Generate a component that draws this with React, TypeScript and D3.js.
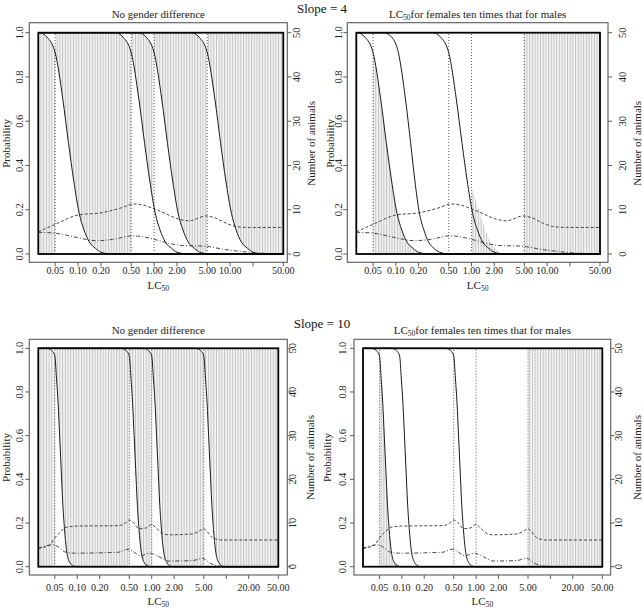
import React from 'react';
import * as d3 from 'd3';

type Pt = [number, number];

const W = 643;
const H = 612;
const FONT = "'Liberation Serif', 'Times New Roman', serif";

// ---------- data ----------
const cutoffs = [0.05, 0.5, 1, 5];
const xTickValues = [0.05, 0.1, 0.2, 0.5, 1, 2, 5, 10, 20, 50];
const xTickLabelsSlope4 = ['0.05', '0.10', '0.20', '0.50', '1.00', '2.00', '5.00', '10.00', '', '50.00'];
const xTickLabelsSlope10 = ['0.05', '0.10', '0.20', '0.50', '1.00', '2.00', '5.00', '', '20.00', '50.00'];
const probTicks = [0, 0.2, 0.4, 0.6, 0.8, 1.0];
const probTickLabels = ['0.0', '0.2', '0.4', '0.6', '0.8', '1.0'];
const animalTicks = [0, 10, 20, 30, 40, 50];
const animalTickLabels = ['0', '10', '20', '30', '40', '50'];

// slope 4 – probability curves
const s4Cut005: Pt[] = [[0.03, 1], [0.031, 1], [0.039, 0.98], [0.05, 0.91], [0.063, 0.7], [0.075, 0.5], [0.0875, 0.334], [0.1035, 0.184], [0.12, 0.108], [0.14, 0.055], [0.17, 0.025], [0.2, 0.008], [0.275, 0], [50, 0]];
const s4Cut05: Pt[] = [[0.03, 1], [0.31, 1], [0.39, 0.98], [0.5, 0.91], [0.63, 0.7], [0.75, 0.5], [0.875, 0.334], [1.035, 0.184], [1.2, 0.108], [1.4, 0.055], [1.7, 0.025], [2.0, 0.008], [2.75, 0], [50, 0]];
const s4Cut1: Pt[] = [[0.03, 1], [0.62, 1], [0.785, 0.98], [1.0, 0.91], [1.26, 0.7], [1.5, 0.5], [1.75, 0.334], [2.07, 0.184], [2.4, 0.108], [2.8, 0.055], [3.4, 0.025], [4.0, 0.008], [5.5, 0], [50, 0]];
const s4Cut5: Pt[] = [[0.03, 1], [3.1, 1], [3.9, 0.98], [5, 0.91], [6.3, 0.7], [7.5, 0.5], [8.75, 0.334], [10.4, 0.184], [12, 0.108], [14, 0.055], [17, 0.025], [20, 0.008], [27.5, 0], [50, 0]];
const s4Female: Pt[] = [[0.03, 1], [0.07, 1], [0.088, 0.98], [0.108, 0.91], [0.134, 0.7], [0.157, 0.5], [0.178, 0.334], [0.205, 0.184], [0.235, 0.108], [0.27, 0.055], [0.32, 0.025], [0.38, 0.008], [0.5, 0], [50, 0]];
// shading limit right of 1.00 (female panel, slope 4)
const s4FemaleShade1: Pt[] = [[1.0, 0.3], [1.2, 0.22], [1.45, 0.13], [1.7, 0.07], [2.0, 0.03], [2.3, 0.01], [2.6, 0], [50, 0]];

// slope 10 – probability curves
const s10Cut005: Pt[] = [[0.03, 1], [0.038, 1], [0.0435, 0.995], [0.0467, 0.985], [0.05, 0.965], [0.0527, 0.86], [0.0553, 0.75], [0.058, 0.6], [0.0608, 0.45], [0.0637, 0.3], [0.0675, 0.17], [0.0715, 0.08], [0.079, 0.02], [0.089, 0.003], [0.0975, 0], [50, 0]];
const s10Cut05: Pt[] = [[0.03, 1], [0.38, 1], [0.435, 0.995], [0.467, 0.985], [0.5, 0.965], [0.527, 0.86], [0.553, 0.75], [0.58, 0.6], [0.608, 0.45], [0.637, 0.3], [0.675, 0.17], [0.715, 0.08], [0.79, 0.02], [0.89, 0.003], [0.975, 0], [50, 0]];
const s10Cut1: Pt[] = [[0.03, 1], [0.76, 1], [0.87, 0.995], [0.933, 0.985], [1.0, 0.965], [1.054, 0.86], [1.107, 0.75], [1.16, 0.6], [1.216, 0.45], [1.274, 0.3], [1.35, 0.17], [1.43, 0.08], [1.585, 0.02], [1.78, 0.003], [1.95, 0], [50, 0]];
const s10Cut5: Pt[] = [[0.03, 1], [3.8, 1], [4.35, 0.995], [4.67, 0.985], [5.0, 0.965], [5.27, 0.86], [5.53, 0.75], [5.8, 0.6], [6.08, 0.45], [6.37, 0.3], [6.75, 0.17], [7.15, 0.08], [7.9, 0.02], [8.9, 0.003], [9.75, 0], [50, 0]];
const s10Female: Pt[] = [[0.03, 1], [0.0709, 1], [0.0813, 0.995], [0.0871, 0.985], [0.0934, 0.965], [0.0984, 0.86], [0.1034, 0.75], [0.1084, 0.6], [0.1136, 0.45], [0.119, 0.3], [0.126, 0.17], [0.1335, 0.08], [0.148, 0.02], [0.166, 0.003], [0.182, 0], [50, 0]];

// number of animals (right axis)
const animalsUpperS4: Pt[] = [[0.03, 5.0], [0.05, 6.7], [0.1, 8.8], [0.2, 9.3], [0.35, 10.3], [0.55, 11.3], [0.7, 11.1], [1.0, 10.2], [1.3, 9.4], [2.1, 7.9], [2.9, 7.5], [4.8, 8.6], [6, 8.3], [9, 6.9], [12, 6.2], [18, 6.0], [50, 6.0]];
const animalsLowerS4: Pt[] = [[0.03, 4.9], [0.05, 4.7], [0.077, 4.1], [0.127, 3.3], [0.172, 3.0], [0.285, 3.3], [0.52, 4.1], [0.71, 3.9], [1.06, 3.2], [1.58, 2.4], [2.38, 1.9], [4.36, 1.8], [5.35, 1.65], [7.9, 1.1], [12, 0.7], [20, 0.3], [33, 0.12], [50, 0.1]];
const animalsUpperS10: Pt[] = [[0.03, 4.2], [0.043, 5.0], [0.05, 6.6], [0.06, 8.0], [0.07, 9.0], [0.1, 9.3], [0.36, 9.4], [0.45, 10.1], [0.5, 10.7], [0.56, 10.2], [0.68, 8.7], [0.85, 8.9], [1.0, 9.7], [1.12, 9.0], [1.4, 7.6], [1.7, 7.3], [3.5, 7.5], [4.5, 8.3], [5.0, 8.7], [5.5, 8.1], [6.7, 6.5], [9, 6.1], [50, 6.1]];
const animalsLowerS10: Pt[] = [[0.03, 4.2], [0.047, 5.0], [0.055, 4.6], [0.068, 3.4], [0.09, 3.1], [0.35, 3.3], [0.48, 4.0], [0.55, 3.6], [0.7, 2.5], [0.95, 3.1], [1.05, 2.9], [1.25, 2.3], [1.7, 1.3], [3.5, 1.4], [4.8, 1.9], [6.1, 0.8], [7.9, 0.16], [10.5, 0], [50, 0]];

// ---------- panel configuration ----------
type Band = { from: number; to: number; lower: Pt[] | null; upper: Pt[] | 'one' };
type Panel = {
  id: string;
  title: 'none' | 'female';
  box: { l: number; t: number; r: number; b: number };
  xr: [number, number];
  yr: [number, number];
  curves: Pt[][];
  bands: Band[];
  upper: Pt[];
  lower: Pt[];
  xLabels: string[];
  ylabX: number; ytickX: number; rtickX: number; rlabX: number;
  xtickY: number; xlabY: number; titleY: number;
};

const panels: Panel[] = [
  {
    id: 'tl', title: 'none', box: { l: 29.3, t: 22.7, r: 287.3, b: 262.3 }, xr: [38.3, 283.3], yr: [254, 32.7],
    curves: [s4Cut005, s4Cut05, s4Cut1, s4Cut5],
    bands: [
      { from: 0.03, to: 0.05, lower: null, upper: s4Cut005 },
      { from: 0.05, to: 0.5, lower: s4Cut005, upper: s4Cut05 },
      { from: 0.5, to: 1, lower: s4Cut05, upper: s4Cut1 },
      { from: 1, to: 5, lower: s4Cut1, upper: s4Cut5 },
      { from: 5, to: 50, lower: s4Cut5, upper: 'one' },
    ],
    upper: animalsUpperS4, lower: animalsLowerS4, xLabels: xTickLabelsSlope4,
    ylabX: 6, ytickX: 19.3, rtickX: 296.5, rlabX: 311, xtickY: 270, xlabY: 285, titleY: 14,
  },
  {
    id: 'tr', title: 'female', box: { l: 347.3, t: 22.7, r: 608, b: 262.3 }, xr: [356.3, 600], yr: [254, 32.7],
    curves: [s4Cut005, s4Female, s4Cut05],
    bands: [
      { from: 0.05, to: 0.5, lower: null, upper: s4Cut005 },
      { from: 1, to: 5, lower: null, upper: s4FemaleShade1 },
      { from: 5, to: 50, lower: null, upper: 'one' },
    ],
    upper: animalsUpperS4, lower: animalsLowerS4, xLabels: xTickLabelsSlope4,
    ylabX: 330, ytickX: 338, rtickX: 622, rlabX: 637, xtickY: 270, xlabY: 285, titleY: 14,
  },
  {
    id: 'bl', title: 'none', box: { l: 29.3, t: 339.3, r: 287.3, b: 575 }, xr: [38.3, 278.3], yr: [566.7, 348.3],
    curves: [s10Cut005, s10Cut05, s10Cut1, s10Cut5],
    bands: [
      { from: 0.03, to: 0.05, lower: null, upper: s10Cut005 },
      { from: 0.05, to: 0.5, lower: s10Cut005, upper: s10Cut05 },
      { from: 0.5, to: 1, lower: s10Cut05, upper: s10Cut1 },
      { from: 1, to: 5, lower: s10Cut1, upper: s10Cut5 },
      { from: 5, to: 50, lower: s10Cut5, upper: 'one' },
    ],
    upper: animalsUpperS10, lower: animalsLowerS10, xLabels: xTickLabelsSlope10,
    ylabX: 6, ytickX: 19.3, rtickX: 292, rlabX: 310, xtickY: 587, xlabY: 601, titleY: 330,
  },
  {
    id: 'br', title: 'female', box: { l: 354, t: 339.3, r: 610.7, b: 575 }, xr: [363, 602.3], yr: [566.7, 348.3],
    curves: [s10Cut005, s10Female, s10Cut05],
    bands: [
      { from: 0.05, to: 0.5, lower: null, upper: s10Cut005 },
      { from: 5, to: 50, lower: null, upper: 'one' },
    ],
    upper: animalsUpperS10, lower: animalsLowerS10, xLabels: xTickLabelsSlope10,
    ylabX: 327, ytickX: 342, rtickX: 618, rlabX: 637, xtickY: 587, xlabY: 601, titleY: 330,
  },
];

const INK = '#1a1a1a';
const AXIS = '#5a5a5a';
const TXT = '#222';

function PanelView({ p }: { p: Panel }) {
  const x = d3.scaleLog().domain([0.03, 50]).range(p.xr);
  const y = d3.scaleLinear().domain([0, 1]).range(p.yr);
  const yN = d3.scaleLinear().domain([0, 50]).range(p.yr);
  const line = d3.line<Pt>().x(d => x(d[0])).y(d => y(d[1])).curve(d3.curveMonotoneX);
  const lineN = d3.line<Pt>().x(d => x(d[0])).y(d => yN(d[1])).curve(d3.curveMonotoneX);
  const under = d3.area<Pt>().x(d => x(d[0])).y0(y(0)).y1(d => y(d[1])).curve(d3.curveMonotoneX);
  const cx = (p.box.l + p.box.r) / 2;
  const fs = 10;
  const fl = 11;

  return (
    <g>
      <defs>
        {p.bands.map((b, i) => (
          <mask key={i} id={`m-${p.id}-${i}`} maskUnits="userSpaceOnUse" x={0} y={0} width={W} height={H}>
            {b.upper === 'one'
              ? <rect x={x(0.03)} y={y(1)} width={x(50) - x(0.03)} height={y(0) - y(1)} fill="white" />
              : <path d={under(b.upper) || ''} fill="white" />}
            {b.lower && <path d={under(b.lower) || ''} fill="black" />}
          </mask>
        ))}
      </defs>
      {/* shading */}
      {p.bands.map((b, i) => (
        <rect key={i} x={x(b.from)} y={y(1)} width={x(b.to) - x(b.from)} height={y(0) - y(1)}
          fill="url(#hatch)" mask={`url(#m-${p.id}-${i})`} />
      ))}
      {/* cutoff dotted lines */}
      {cutoffs.map(c => (
        <line key={c} x1={x(c)} x2={x(c)} y1={y(0)} y2={y(1)} stroke="#333" strokeWidth={0.8} strokeDasharray="1,2" />
      ))}
      {/* number of animals */}
      <path d={lineN(p.upper) || ''} fill="none" stroke="#333" strokeWidth={0.9} strokeDasharray="3,2" />
      <path d={lineN(p.lower) || ''} fill="none" stroke="#333" strokeWidth={0.9} strokeDasharray="4,2,1,2" />
      {/* probability curves */}
      {p.curves.map((c, i) => (
        <path key={i} d={line(c) || ''} fill="none" stroke={INK} strokeWidth={1} />
      ))}
      {/* frame of data region */}
      <rect x={x(0.03)} y={y(1)} width={x(50) - x(0.03)} height={y(0) - y(1)} fill="none" stroke="#000" strokeWidth={1.8} />
      {/* plot box */}
      <rect x={p.box.l} y={p.box.t} width={p.box.r - p.box.l} height={p.box.b - p.box.t} fill="none" stroke={AXIS} strokeWidth={1.1} />
      {/* x axis */}
      {xTickValues.map((v, i) => (
        <g key={v}>
          <line x1={x(v)} x2={x(v)} y1={p.box.b} y2={p.box.b + 4} stroke={AXIS} strokeWidth={1} />
          {p.xLabels[i] && (
            <text x={x(v)} y={p.xtickY} fontSize={fs} textAnchor="middle" dominantBaseline="central" fill={TXT}>{p.xLabels[i]}</text>
          )}
        </g>
      ))}
      <text x={cx} y={p.xlabY} fontSize={fl} textAnchor="middle" dominantBaseline="central" fill={TXT}>
        <tspan>LC</tspan><tspan fontSize={7.5} dy={3}>50</tspan>
      </text>
      {/* left axis */}
      {probTicks.map((v, i) => (
        <g key={v}>
          <line x1={p.box.l - 4} x2={p.box.l} y1={y(v)} y2={y(v)} stroke={AXIS} strokeWidth={1} />
          <text transform={`translate(${p.ytickX},${y(v)}) rotate(-90)`} fontSize={10.5} textAnchor="middle" dominantBaseline="central" fill={TXT}>{probTickLabels[i]}</text>
        </g>
      ))}
      <text transform={`translate(${p.ylabX},${(p.yr[0] + p.yr[1]) / 2}) rotate(-90)`} fontSize={fl} textAnchor="middle" dominantBaseline="central" fill={TXT}>Probability</text>
      {/* right axis */}
      {animalTicks.map((v, i) => (
        <g key={v}>
          <line x1={p.box.r} x2={p.box.r + 4} y1={yN(v)} y2={yN(v)} stroke={AXIS} strokeWidth={1} />
          <text transform={`translate(${p.rtickX},${yN(v)}) rotate(-90)`} fontSize={10.5} textAnchor="middle" dominantBaseline="central" fill={TXT}>{animalTickLabels[i]}</text>
        </g>
      ))}
      <text transform={`translate(${p.rlabX},${(p.yr[0] + p.yr[1]) / 2}) rotate(-90)`} fontSize={fl} textAnchor="middle" dominantBaseline="central" fill={TXT}>Number of animals</text>
      {/* title */}
      {p.title === 'none' ? (
        <text x={cx} y={p.titleY} fontSize={fl} textAnchor="middle" dominantBaseline="central" fill={TXT}>No gender difference</text>
      ) : (
        <text x={cx} y={p.titleY} fontSize={fl} textAnchor="middle" dominantBaseline="central" fill={TXT}>
          <tspan>LC</tspan><tspan fontSize={7.5} dy={3}>50</tspan><tspan dy={-3}>for females ten times that for males</tspan>
        </text>
      )}
    </g>
  );
}

export default function App() {
  return (
    <svg width={W} height={H} viewBox={`0 0 ${W} ${H}`}
      style={{ position: 'absolute', left: 0, top: 0, background: '#fff', display: 'block', fontFamily: FONT }}>
      <defs>
        <pattern id="hatch" patternUnits="userSpaceOnUse" width={2.7} height={10}>
          <rect x={0} y={0} width={2.7} height={10} fill="#f4f4f4" />
          <rect x={0} y={0} width={1} height={10} fill="#c2c2c2" />
        </pattern>
      </defs>
      <rect x={0} y={0} width={W} height={H} fill="#fff" />
      <text x={322} y={8} fontSize={13} textAnchor="middle" dominantBaseline="central" fill="#111">Slope = 4</text>
      <text x={322} y={323} fontSize={13} textAnchor="middle" dominantBaseline="central" fill="#111">Slope = 10</text>
      {panels.map(p => <PanelView key={p.id} p={p} />)}
    </svg>
  );
}
